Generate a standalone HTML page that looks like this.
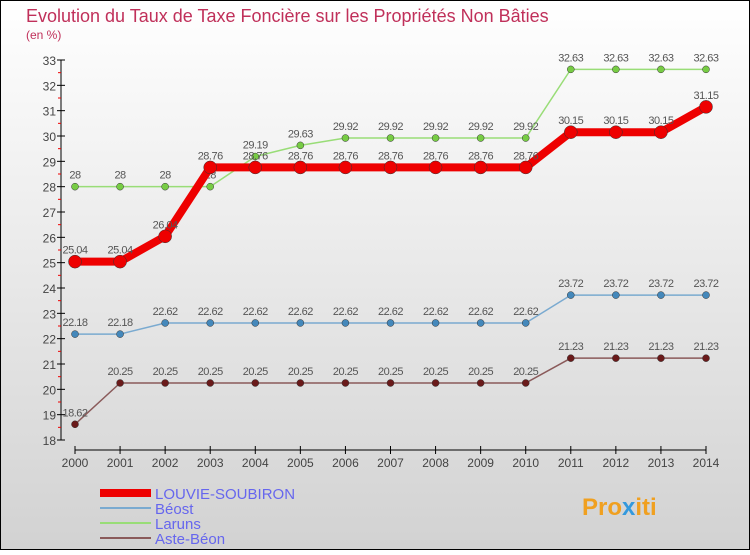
<!DOCTYPE html>
<html><head><meta charset="utf-8"><style>
html,body{margin:0;padding:0}
body{width:750px;height:550px;overflow:hidden;font-family:"Liberation Sans",sans-serif}
</style></head><body>
<svg id="chart" width="750" height="550" xmlns="http://www.w3.org/2000/svg" font-family="Liberation Sans, sans-serif">
<defs><linearGradient id="bg" x1="0" y1="0" x2="0" y2="1"><stop offset="0" stop-color="#ffffff"/><stop offset="1" stop-color="#d2d2d2"/></linearGradient></defs>
<rect x="0.5" y="0.5" width="749" height="549" fill="url(#bg)" stroke="#000"/>
<text x="26" y="22" font-size="18" fill="#c0305a">Evolution du Taux de Taxe Foncière sur les Propriétés Non Bâties</text>
<text x="26" y="39" font-size="12" fill="#c0305a">(en %)</text>
<g id="axes"></g><g id="series"></g>
<g>
<rect x="100" y="489" width="51" height="8" fill="#e00"/>
<text x="155" y="499" font-size="15" fill="#6666ee">LOUVIE-SOUBIRON</text>
<line x1="100" y1="508" x2="151" y2="508" stroke="#7aaad0" stroke-width="2"/>
<text x="155" y="514" font-size="15" fill="#6666ee">Béost</text>
<line x1="100" y1="523" x2="151" y2="523" stroke="#99dd77" stroke-width="2"/>
<text x="155" y="529" font-size="15" fill="#6666ee">Laruns</text>
<line x1="100" y1="538" x2="151" y2="538" stroke="#8a5a5a" stroke-width="2"/>
<text x="155" y="544" font-size="15" fill="#6666ee">Aste-Béon</text>
</g>
<text x="582" y="515" font-size="24" font-weight="bold" fill="#f0a020">Pro<tspan fill="#3399dd">x</tspan>iti</text>
</svg>
<script>
const years=[2000,2001,2002,2003,2004,2005,2006,2007,2008,2009,2010,2011,2012,2013,2014];
const louvie=[25.04,25.04,26.04,28.76,28.76,28.76,28.76,28.76,28.76,28.76,28.76,30.15,30.15,30.15,31.15];
const beost=[22.18,22.18,22.62,22.62,22.62,22.62,22.62,22.62,22.62,22.62,22.62,23.72,23.72,23.72,23.72];
const laruns=[28,28,28,28,29.19,29.63,29.92,29.92,29.92,29.92,29.92,32.63,32.63,32.63,32.63];
const aste=[18.62,20.25,20.25,20.25,20.25,20.25,20.25,20.25,20.25,20.25,20.25,21.23,21.23,21.23,21.23];
const yTicks=[18,19,20,21,22,23,24,25,26,27,28,29,30,31,32,33];
const NS="http://www.w3.org/2000/svg";
const yMin=18,yMax=33,yTop=60,yBot=440,x0=75,x1=706;
const X=i=>x0+(x1-x0)*i/(years.length-1);
const Y=v=>yBot-(v-yMin)*(yBot-yTop)/(yMax-yMin);
function mk(t,a,p){const e=document.createElementNS(NS,t);for(const k in a)e.setAttribute(k,a[k]);p.appendChild(e);return e;}
const ax=document.getElementById('axes');
let l=mk('line',{x1:61,y1:yTop,x2:61,y2:yBot,stroke:'#000'},ax);


yTicks.forEach(v=>{
 mk('line',{x1:57,y1:Y(v),x2:65,y2:Y(v),stroke:'#000'},ax);
 if(v<yMax)mk('line',{x1:58,y1:Y(v+0.5),x2:61,y2:Y(v+0.5),stroke:'#e00'},ax);
 const t=mk('text',{x:56,y:Y(v)+5,'font-size':12,fill:'#444','text-anchor':'end'},ax);t.textContent=v;
 
 
});
l=mk('line',{x1:x0,y1:450,x2:x1,y2:450,stroke:'#000'},ax);


years.forEach((y,i)=>{
 mk('line',{x1:X(i),y1:446,x2:X(i),y2:454,stroke:'#000'},ax);
 const t=mk('text',{x:X(i),y:467,'font-size':12,fill:'#444','text-anchor':'middle'},ax);t.textContent=y;
 
 
});
const sg=document.getElementById('series');
function draw(vals,name,col,dot,w,r){
 const g=mk('g',{},sg);
 
 
 const p=mk('polyline',{points:vals.map((v,i)=>X(i)+','+Y(v)).join(' '),fill:'none',stroke:col,'stroke-width':w,'stroke-linejoin':'round'},g);
 
 
 vals.forEach((v,i)=>{
  const c=mk('circle',{cx:X(i),cy:Y(v),r:r,fill:dot,stroke:'#333','stroke-width':0.5},g);
  
  
  const t=mk('text',{x:X(i),y:Y(v)-8,'font-size':11,fill:'#555','text-anchor':'middle','letter-spacing':'-0.5'},g);
  t.textContent=v;
  
  
 });
}
draw(laruns,'laruns','#99dd77','#77cc44',1.5,3.5);
draw(beost,'beost','#7aaad0','#4488bb',1.5,3.5);
draw(aste,'aste-beon','#8a5a5a','#6a1a1a',1.5,3.5);
draw(louvie,'louvie-soubiron','#ee0000','#ee0000',8,6.5);
</script>
</body></html>
